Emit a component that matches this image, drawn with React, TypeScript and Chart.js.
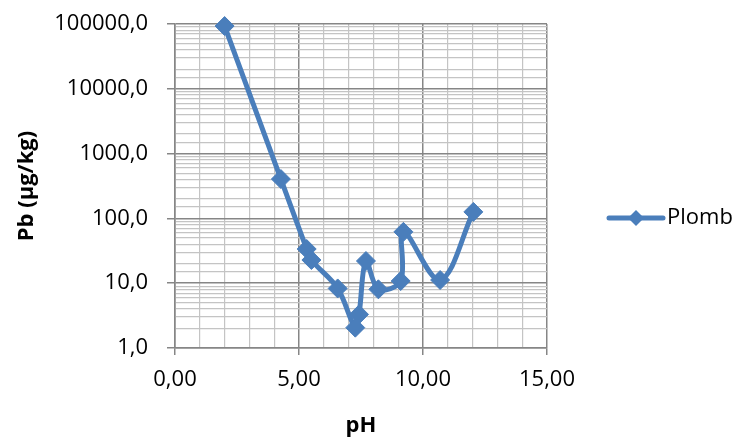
import React, { useEffect, useRef } from "react";
import { Chart, registerables } from "chart.js";

Chart.register(...registerables);

const seriesName = "Plomb";
const phValues = [2.0, 4.27, 5.31, 5.5, 6.56, 7.27, 7.42, 7.7, 8.2, 9.1, 9.21, 10.69, 12.03];
const pbValues = [93000, 405, 33.7, 22.8, 8.3, 2.06, 3.3, 22, 8.05, 10.8, 62, 11.2, 126];
const xMajorTicks = [0, 5, 10, 15];
const yMajorTicks = [1, 10, 100, 1000, 10000, 100000];

const BLUE = "#4A7EBB";
const MAJOR = "#868686";
const MINOR = "#c4c4c4";
const FONT = "'Open Sans', 'Noto Sans', sans-serif";

const isDecade = (v: number) => yMajorTicks.some((m) => Math.abs(m - v) < 1e-9 * m);
const isFive = (v: number) => xMajorTicks.some((m) => Math.abs(m - v) < 1e-9);

const legendPlugin = {
  id: "customLegend",
  afterDraw(chart: any) {
    const { ctx, chartArea } = chart;
    const cy = 218;
    const x0 = chartArea.right + 62;
    const x1 = chartArea.right + 116;
    const cx = (x0 + x1) / 2;
    ctx.save();
    ctx.strokeStyle = BLUE;
    ctx.lineWidth = 5;
    ctx.lineCap = "round";
    ctx.beginPath();
    ctx.moveTo(x0, cy);
    ctx.lineTo(x1, cy);
    ctx.stroke();
    const r = 8;
    ctx.fillStyle = BLUE;
    ctx.beginPath();
    ctx.moveTo(cx - r, cy);
    ctx.lineTo(cx, cy - r);
    ctx.lineTo(cx + r, cy);
    ctx.lineTo(cx, cy + r);
    ctx.closePath();
    ctx.fill();
    ctx.fillStyle = "#000";
    ctx.font = `22px ${FONT}`;
    ctx.textBaseline = "middle";
    ctx.textAlign = "left";
    ctx.fillText(seriesName, x1 + 4, cy);
    ctx.restore();
  },
};

export default function App() {
  const ref = useRef<HTMLCanvasElement | null>(null);
  useEffect(() => {
    document.body.style.margin = "0";
    const canvas = ref.current;
    if (!canvas) return;
    const chart = new Chart(canvas, {
      type: "scatter",
      data: {
        datasets: [
          {
            label: seriesName,
            data: phValues.map((x, i) => ({ x, y: pbValues[i] })),
            showLine: true,
            clip: false,
            borderColor: BLUE,
            backgroundColor: BLUE,
            borderWidth: 5,
            tension: 0.35,
            pointStyle: "rectRot",
            pointRadius: 9.5,
            pointBorderWidth: 1,
            pointBackgroundColor: BLUE,
            pointBorderColor: BLUE,
          },
        ],
      },
      options: {
        animation: false,
        responsive: false,
        devicePixelRatio: 1,
        layout: { padding: { top: 24, right: 192, left: 0, bottom: 0 } },
        plugins: { legend: { display: false }, tooltip: { enabled: false } },
        scales: {
          x: {
            type: "linear",
            min: 0,
            max: 15,
            afterFit: (s: any) => {
              s.height = 89;
              s.paddingLeft = 0;
              s.paddingRight = 0;
            },
            border: { color: MAJOR, width: 1.5 },
            grid: {
              color: (c: any) => (c.tick && isFive(c.tick.value) ? MAJOR : MINOR),
              tickColor: (c: any) => (c.tick && isFive(c.tick.value) ? MAJOR : "rgba(0,0,0,0)"),
              lineWidth: (c: any) => (c.tick && isFive(c.tick.value) ? 1.5 : 1.2),
              tickLength: 7,
            },
            ticks: {
              stepSize: 1,
              autoSkip: false,
              maxRotation: 0,
              padding: 12,
              color: "#000",
              font: { family: FONT, size: 22 },
              callback: (v: any) => (isFive(Number(v)) ? Number(v).toFixed(2).replace(".", ",") : ""),
            },
            title: {
              display: true,
              text: "pH",
              color: "#000",
              font: { family: FONT, size: 22, weight: "bold" },
              padding: { top: 0, bottom: -2 },
            },
          },
          y: {
            type: "logarithmic",
            min: 1,
            max: 100000,
            afterFit: (s: any) => {
              s.width = 175;
              s.paddingTop = 0;
              s.paddingBottom = 0;
            },
            border: { color: MAJOR, width: 1.5 },
            grid: {
              color: (c: any) => (c.tick && isDecade(c.tick.value) ? MAJOR : MINOR),
              tickColor: (c: any) => (c.tick && isDecade(c.tick.value) ? MAJOR : "rgba(0,0,0,0)"),
              lineWidth: (c: any) => (c.tick && isDecade(c.tick.value) ? 1.5 : 1.2),
              tickLength: 8,
            },
            ticks: {
              autoSkip: false,
              padding: 19,
              color: "#000",
              font: { family: FONT, size: 22 },
              callback: (v: any) => (isDecade(Number(v)) ? Number(v).toFixed(1).replace(".", ",") : ""),
            },
            title: {
              display: true,
              text: "Pb (µg/kg)",
              color: "#000",
              font: { family: FONT, size: 22, weight: "bold" },
              padding: { top: 14, bottom: 0 },
            },
          },
        },
      },
      plugins: [legendPlugin],
    });
    return () => chart.destroy();
  }, []);
  return <canvas ref={ref} width={739} height={437} style={{ display: "block" }} />;
}
